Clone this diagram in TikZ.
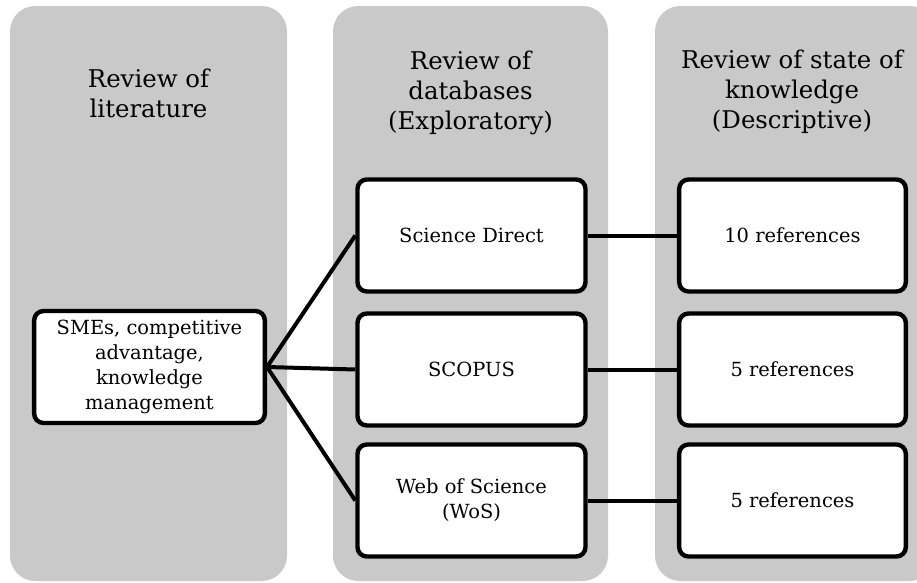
\documentclass[tikz,border=0pt]{standalone}
\usepackage{fontspec}
\setmainfont{DejaVu Serif}
\usepackage{tikz}
\usetikzlibrary{positioning}
\definecolor{panelgray}{HTML}{C9C9C9}

\begin{document}
\begin{tikzpicture}[x=0.75pt,y=-0.75pt,line join=round,
  panel/.style={fill=panelgray,rounded corners=19pt},
  head/.style={align=center,font=\fontsize{18.3}{22.5}\selectfont,text=black},
  item/.style={draw=black,fill=white,line width=3.3pt,rounded corners=7pt,
    align=center,minimum width=171pt,minimum height=84pt,inner sep=2pt,
    font=\fontsize{14.6}{18.75}\selectfont},
  link/.style={line width=3pt}]
\path[use as bounding box] (0,0) rectangle (917,582);
\fill[white] (0,0) rectangle (917,582);
\clip (0,0) rectangle (917,582);
% three grey columns
\fill[panel] (10,6) rectangle (287,581);
\fill[panel] (333,6) rectangle (608,581);
\fill[panel] (655,6) rectangle (935,581);
\node[head] (hlit) at (148.5,93) {Review of\\literature};
\node[head] (hdb) at (470.5,93) {Review of\\databases\\(Exploratory)};
\node[head] (hstate) at (792,92) {Review of state of\\knowledge\\(Descriptive)};
% boxes
\node[item,minimum width=173pt] (topics) at (149.5,367) {SMEs, competitive\\advantage,\\knowledge\\management};
\node[item] (sd) at (471.5,235.5) {Science Direct};
\node[item] (scopus) at (471.5,369.5) {SCOPUS};
\node[item] (wos) at (471.5,500.5) {Web of Science\\(WoS)};
\node[item,minimum width=170pt] (r1) at (792.5,235.5) {10 references};
\node[item,minimum width=170pt] (r2) at (792.5,369.5) {5 references};
\node[item,minimum width=170pt] (r3) at (792.5,500.5) {5 references};
% connectors
\draw[link] (topics.east) -- (sd.west);
\draw[link] (topics.east) -- (scopus.west);
\draw[link] (topics.east) -- (wos.west);
\draw[link] (sd.east) -- (r1.west);
\draw[link] (scopus.east) -- (r2.west);
\draw[link] (wos.east) -- (r3.west);
\end{tikzpicture}
\end{document}
